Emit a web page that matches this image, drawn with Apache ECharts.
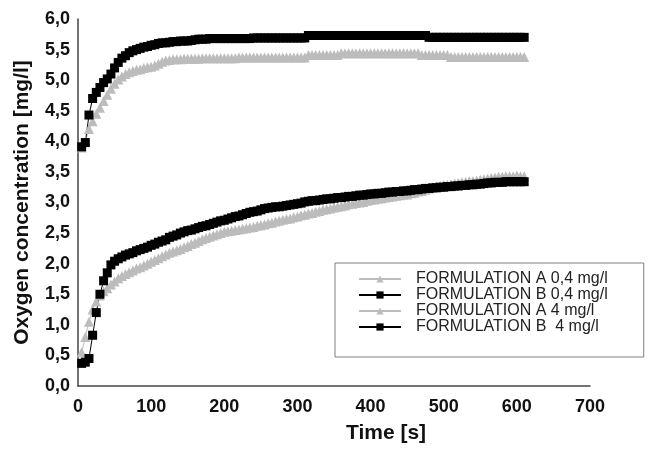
<!DOCTYPE html>
<html>
<head>
<meta charset="utf-8">
<script src="https://cdn.jsdelivr.net/npm/echarts@6/dist/echarts.min.js"></script>
<style>
  html, body { margin: 0; padding: 0; background: #fff; }
  #chart { width: 651px; height: 449px; }
</style>
</head>
<body>
<div id="chart"></div>
<script>
// sampling times [s]
var times = [
  5, 10, 15, 20, 25, 30, 35, 40, 45, 50,
  55, 60, 65, 70, 75, 80, 85, 90, 95, 100,
  105, 110, 115, 120, 125, 130, 135, 140, 145, 150,
  155, 160, 165, 170, 175, 180, 185, 190, 195, 200,
  205, 210, 215, 220, 225, 230, 235, 240, 245, 250,
  255, 260, 265, 270, 275, 280, 285, 290, 295, 300,
  305, 310, 315, 320, 325, 330, 335, 340, 345, 350,
  355, 360, 365, 370, 375, 380, 385, 390, 395, 400,
  405, 410, 415, 420, 425, 430, 435, 440, 445, 450,
  455, 460, 465, 470, 475, 480, 485, 490, 495, 500,
  505, 510, 515, 520, 525, 530, 535, 540, 545, 550,
  555, 560, 565, 570, 575, 580, 585, 590, 595, 600,
  605, 610
];

// FORMULATION A 0,4 mg/l
var formA04 = [
  0.55, 0.80, 1.05, 1.25, 1.38, 1.48, 1.55, 1.60, 1.66, 1.71,
  1.76, 1.80, 1.83, 1.86, 1.89, 1.92, 1.94, 1.97, 2.00, 2.03,
  2.06, 2.09, 2.12, 2.15, 2.18, 2.20, 2.22, 2.24, 2.27, 2.29,
  2.32, 2.34, 2.37, 2.40, 2.42, 2.44, 2.46, 2.48, 2.50, 2.52,
  2.53, 2.54, 2.55, 2.56, 2.57, 2.58, 2.59, 2.60, 2.62, 2.63,
  2.64, 2.66, 2.67, 2.69, 2.70, 2.72, 2.73, 2.74, 2.76, 2.77,
  2.79, 2.80, 2.82, 2.83, 2.85, 2.86, 2.88, 2.89, 2.90, 2.92,
  2.93, 2.94, 2.95, 2.97, 2.98, 2.99, 3.00, 3.01, 3.03, 3.04,
  3.05, 3.06, 3.07, 3.08, 3.09, 3.10, 3.11, 3.12, 3.13, 3.13,
  3.15, 3.16, 3.18, 3.19, 3.21, 3.23, 3.25, 3.26, 3.27, 3.28,
  3.29, 3.30, 3.31, 3.32, 3.33, 3.34, 3.35, 3.35, 3.36, 3.37,
  3.38, 3.39, 3.40, 3.41, 3.42, 3.42, 3.43, 3.43, 3.43, 3.44,
  3.43, 3.43
];

// FORMULATION B 0,4 mg/l
var formB04 = [
  0.37, 0.39, 0.45, 0.83, 1.20, 1.50, 1.72, 1.85, 1.98, 2.04,
  2.08, 2.11, 2.14, 2.16, 2.18, 2.21, 2.23, 2.25, 2.27, 2.30,
  2.32, 2.35, 2.37, 2.39, 2.43, 2.45, 2.47, 2.50, 2.52, 2.54,
  2.55, 2.57, 2.59, 2.61, 2.62, 2.64, 2.66, 2.68, 2.70, 2.71,
  2.73, 2.75, 2.77, 2.78, 2.80, 2.82, 2.84, 2.85, 2.86, 2.88,
  2.90, 2.91, 2.92, 2.93, 2.93, 2.94, 2.95, 2.96, 2.97, 2.98,
  2.99, 3.01, 3.02, 3.03, 3.03, 3.04, 3.05, 3.06, 3.06, 3.07,
  3.08, 3.08, 3.09, 3.10, 3.10, 3.11, 3.12, 3.12, 3.13, 3.14,
  3.14, 3.15, 3.15, 3.16, 3.17, 3.17, 3.18, 3.18, 3.19, 3.19,
  3.20, 3.21, 3.21, 3.22, 3.23, 3.23, 3.24, 3.24, 3.25, 3.25,
  3.26, 3.26, 3.27, 3.27, 3.28, 3.28, 3.29, 3.29, 3.30, 3.30,
  3.31, 3.32, 3.32, 3.33, 3.33, 3.33, 3.34, 3.34, 3.34, 3.34,
  3.34, 3.34
];

// FORMULATION A 4 mg/l
var formA4 = [
  3.90, 4.00, 4.20, 4.33, 4.45, 4.55, 4.66, 4.76, 4.86, 4.94,
  5.01, 5.06, 5.10, 5.13, 5.15, 5.17, 5.18, 5.20, 5.21, 5.22,
  5.24, 5.27, 5.30, 5.32, 5.33, 5.34, 5.34, 5.34, 5.35, 5.35,
  5.35, 5.35, 5.35, 5.36, 5.36, 5.36, 5.36, 5.36, 5.36, 5.36,
  5.36, 5.36, 5.36, 5.37, 5.37, 5.37, 5.37, 5.37, 5.37, 5.37,
  5.37, 5.37, 5.37, 5.37, 5.37, 5.37, 5.37, 5.37, 5.37, 5.37,
  5.37, 5.37, 5.41, 5.41, 5.41, 5.41, 5.41, 5.41, 5.41, 5.41,
  5.41, 5.44, 5.44, 5.44, 5.44, 5.44, 5.44, 5.44, 5.44, 5.44,
  5.44, 5.44, 5.44, 5.44, 5.44, 5.44, 5.44, 5.44, 5.44, 5.44,
  5.44, 5.44, 5.44, 5.41, 5.41, 5.41, 5.41, 5.41, 5.41, 5.41,
  5.41, 5.38, 5.38, 5.38, 5.38, 5.38, 5.38, 5.38, 5.38, 5.38,
  5.38, 5.38, 5.38, 5.38, 5.38, 5.38, 5.38, 5.38, 5.38, 5.38,
  5.38, 5.38
];

// FORMULATION B 4 mg/l
var formB4 = [
  3.91, 3.98, 4.43, 4.70, 4.80, 4.88, 4.96, 5.02, 5.10, 5.20,
  5.29, 5.36, 5.40, 5.45, 5.48, 5.50, 5.52, 5.54, 5.55, 5.57,
  5.58, 5.60, 5.61, 5.61, 5.62, 5.63, 5.63, 5.64, 5.64, 5.64,
  5.65, 5.66, 5.67, 5.67, 5.67, 5.68, 5.68, 5.68, 5.68, 5.68,
  5.68, 5.68, 5.68, 5.68, 5.68, 5.68, 5.68, 5.69, 5.69, 5.69,
  5.69, 5.69, 5.69, 5.69, 5.69, 5.69, 5.69, 5.69, 5.69, 5.69,
  5.69, 5.69, 5.73, 5.73, 5.73, 5.73, 5.73, 5.73, 5.73, 5.73,
  5.73, 5.73, 5.73, 5.73, 5.73, 5.73, 5.73, 5.73, 5.73, 5.73,
  5.73, 5.73, 5.73, 5.73, 5.73, 5.73, 5.73, 5.73, 5.73, 5.73,
  5.73, 5.73, 5.73, 5.73, 5.73, 5.70, 5.70, 5.70, 5.70, 5.70,
  5.70, 5.70, 5.70, 5.70, 5.70, 5.70, 5.70, 5.70, 5.70, 5.70,
  5.70, 5.70, 5.70, 5.70, 5.70, 5.70, 5.70, 5.70, 5.70, 5.70,
  5.70, 5.70
];

var seriesNames = ['FORMULATION A 0,4 mg/l', 'FORMULATION B 0,4 mg/l', 'FORMULATION A 4 mg/l', 'FORMULATION B  4 mg/l'];

var GREY = '#bcbcbc';
var FONT = '"Liberation Sans", Arial, sans-serif';

function pairs(vals) {
  var out = [];
  for (var i = 0; i < times.length; i++) {
    out.push([times[i], vals[i]]);
  }
  return out;
}

function makeSeries(name, vals, colour, symbol, size) {
  return {
    name: name,
    type: 'line',
    data: pairs(vals),
    symbol: symbol,
    symbolSize: size,
    showAllSymbol: true,
    color: colour,
    lineStyle: { color: colour, width: 1 },
    itemStyle: { color: colour },
    animation: false
  };
}

var chart = echarts.init(document.getElementById('chart'), null, { renderer: 'canvas' });

var option = {
  backgroundColor: '#fff',
  textStyle: { fontFamily: FONT },
  grid: { left: 78, top: 19, right: 61, bottom: 59 },
  legend: {
    orient: 'vertical',
    left: 335,
    top: 263,
    data: seriesNames,
    itemWidth: 42,
    itemHeight: 9,
    itemGap: 0,
    padding: [8, 36, 22, 23],
    borderColor: '#808080',
    borderWidth: 1,
    textStyle: { fontFamily: FONT, fontSize: 16, color: '#222', lineHeight: 15, padding: [0, 0, 0, 10] }
  },
  xAxis: {
    type: 'value',
    min: 0,
    max: 700,
    interval: 100,
    name: 'Time [s]',
    nameLocation: 'middle',
    nameGap: 37,
    nameTextStyle: { fontFamily: FONT, fontSize: 21, fontWeight: 'bold', color: '#111', padding: [0, 0, 0, 104] },
    axisLine: { lineStyle: { color: '#444', width: 1.5 } },
    axisTick: { show: false },
    splitLine: { show: false },
    axisLabel: { fontFamily: FONT, fontSize: 18, fontWeight: 'bold', color: '#111', margin: 12 }
  },
  yAxis: {
    type: 'value',
    min: 0,
    max: 6,
    interval: 0.5,
    name: 'Oxygen concentration [mg/l]',
    nameLocation: 'middle',
    nameGap: 45,
    nameTextStyle: { fontFamily: FONT, fontSize: 21, fontWeight: 'bold', color: '#111' },
    axisLine: { show: true, lineStyle: { color: '#444', width: 1.5 } },
    axisTick: { show: false },
    splitLine: { show: false },
    axisLabel: {
      fontFamily: FONT, fontSize: 18, fontWeight: 'bold', color: '#111', margin: 8,
      formatter: function (v) { return v.toFixed(1).replace('.', ','); }
    }
  },
  series: [
    makeSeries(seriesNames[0], formA04, GREY, 'triangle', 10),
    makeSeries(seriesNames[1], formB04, '#000', 'rect', 9),
    makeSeries(seriesNames[2], formA4, GREY, 'triangle', 10),
    makeSeries(seriesNames[3], formB4, '#000', 'rect', 9)
  ]
};

chart.setOption(option);
</script>
</body>
</html>
